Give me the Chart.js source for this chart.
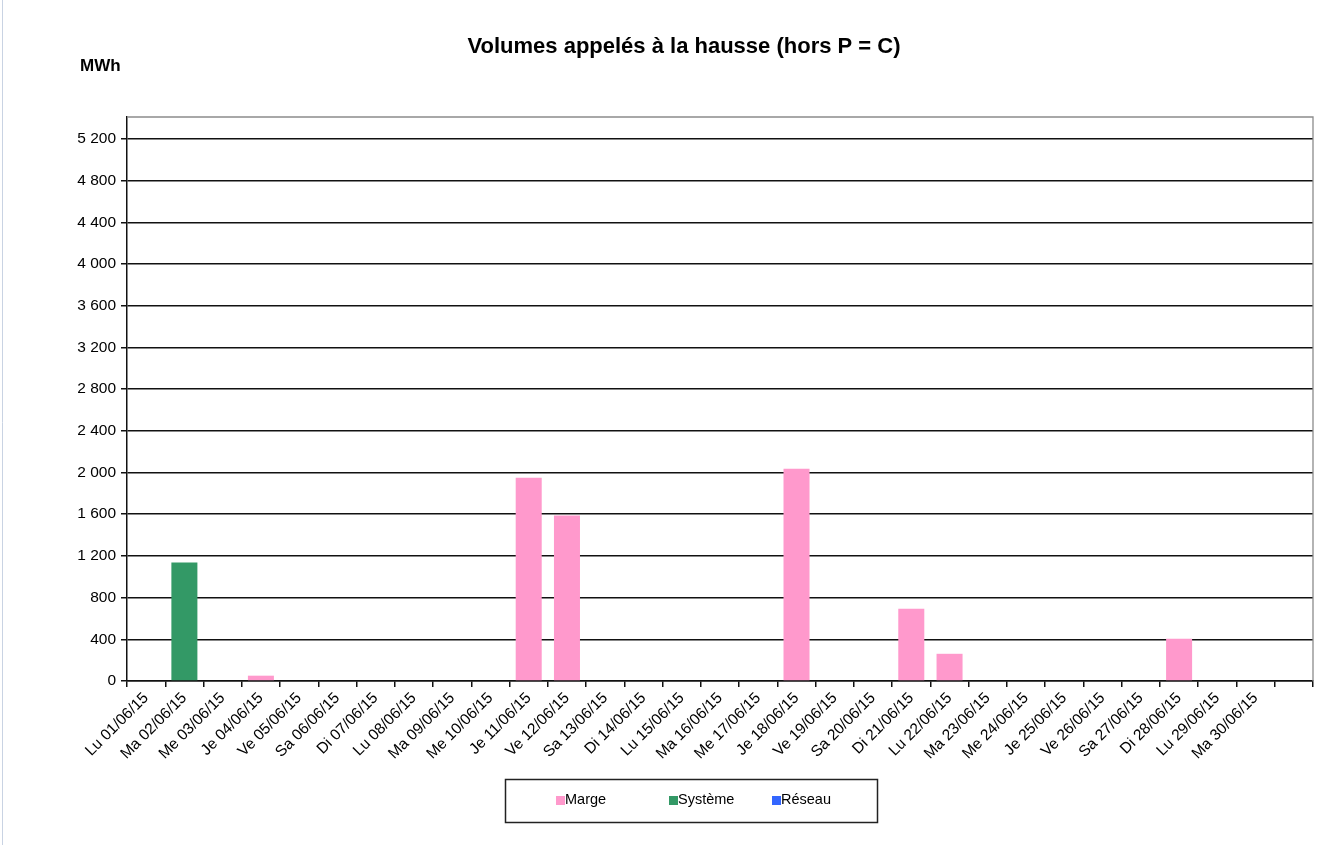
<!DOCTYPE html>
<html>
<head>
<meta charset="utf-8">
<script src="https://cdn.jsdelivr.net/npm/chart.js@4.4.1/dist/chart.umd.min.js"></script>
<style>
  html, body { margin: 0; padding: 0; background: #fff; }
</style>
</head>
<body>
<canvas id="myChart" width="1329" height="845"></canvas>
<script>
// jours du mois (la 31e catégorie reste vide, comme dans le classeur)
const jours = ['Lu 01/06/15', 'Ma 02/06/15', 'Me 03/06/15', 'Je 04/06/15', 'Ve 05/06/15',
    'Sa 06/06/15', 'Di 07/06/15', 'Lu 08/06/15', 'Ma 09/06/15', 'Me 10/06/15',
    'Je 11/06/15', 'Ve 12/06/15', 'Sa 13/06/15', 'Di 14/06/15', 'Lu 15/06/15',
    'Ma 16/06/15', 'Me 17/06/15', 'Je 18/06/15', 'Ve 19/06/15', 'Sa 20/06/15',
    'Di 21/06/15', 'Lu 22/06/15', 'Ma 23/06/15', 'Me 24/06/15', 'Je 25/06/15',
    'Ve 26/06/15', 'Sa 27/06/15', 'Di 28/06/15', 'Lu 29/06/15', 'Ma 30/06/15', ''];

// volumes en MWh
const marge   = [0, 0, 0, 51, 0, 0, 0, 0, 0, 0, 1949, 1588, 0, 0, 0, 0, 0, 2035, 0, 0, 694, 261, 0, 0, 0, 0, 0, 406, 0, 0, 0];
const systeme = [0, 1137, 0, 0, 0, 0, 0, 0, 0, 0, 0, 0, 0, 0, 0, 0, 0, 0, 0, 0, 0, 0, 0, 0, 0, 0, 0, 0, 0, 0, 0];
const reseau  = [0, 0, 0, 0, 0, 0, 0, 0, 0, 0, 0, 0, 0, 0, 0, 0, 0, 0, 0, 0, 0, 0, 0, 0, 0, 0, 0, 0, 0, 0, 0];

const graduations = [0, 400, 800, 1200, 1600, 2000, 2400, 2800, 3200, 3600, 4000, 4400, 4800, 5200];

const titre = 'Volumes appelés à la hausse (hors P = C)';
const unite = 'MWh';
const police = '"Liberation Sans", Arial, sans-serif';

// format "5 200"
function formatMilliers(v) {
    if (v < 1000) return String(v);
    return Math.floor(v / 1000) + ' ' + String(v % 1000).padStart(3, '0');
}

// titre, unité, cadre et légende dessinés à la main
const decor = {
    id: 'decor',
    afterDraw(chart) {
        const ctx = chart.ctx;
        const a = chart.chartArea;
        ctx.save();

        // filet à gauche de l'image
        ctx.strokeStyle = '#c9d3e3';
        ctx.lineWidth = 1;
        ctx.beginPath();
        ctx.moveTo(2.5, 0);
        ctx.lineTo(2.5, 845);
        ctx.stroke();

        // bord haut / droit de la zone de tracé
        ctx.strokeStyle = '#8c8c8c';
        ctx.lineWidth = 1.3;
        ctx.beginPath();
        ctx.moveTo(a.left, a.top);
        ctx.lineTo(a.right, a.top);
        ctx.lineTo(a.right, a.bottom);
        ctx.stroke();

        ctx.fillStyle = '#000';
        ctx.textBaseline = 'middle';
        ctx.textAlign = 'center';
        ctx.font = 'bold 22px ' + police;
        ctx.fillText(titre, 684, 47);

        ctx.textAlign = 'left';
        ctx.font = 'bold 17px ' + police;
        ctx.fillText(unite, 80, 66);

        // légende
        ctx.strokeStyle = '#222';
        ctx.lineWidth = 1.5;
        ctx.strokeRect(505.5, 779.5, 372, 43);
        ctx.font = '14.5px ' + police;
        const xs = [556, 669, 772];
        chart.data.datasets.forEach((ds, i) => {
            ctx.fillStyle = ds.backgroundColor;
            ctx.fillRect(xs[i], 796, 9, 9);
            ctx.fillStyle = '#000';
            ctx.fillText(ds.label, xs[i] + 9, 800);
        });
        ctx.restore();
    }
};

const ctx = document.getElementById('myChart').getContext('2d');
const myChart = new Chart(ctx, {
    type: 'bar',
    data: {
        labels: jours,
        datasets: [
            { label: 'Marge', data: marge, backgroundColor: '#ff99cc' },
            { label: 'Système', data: systeme, backgroundColor: '#339966' },
            { label: 'Réseau', data: reseau, backgroundColor: '#3366ff' }
        ]
    },
    options: {
        responsive: false,
        animation: false,
        layout: { padding: { left: 0, right: 16, top: 117, bottom: 0 } },
        datasets: { bar: { barPercentage: 0.68, categoryPercentage: 1, borderWidth: 0 } },
        plugins: {
            legend: { display: false },
            title: { display: false },
            tooltip: { enabled: false }
        },
        scales: {
            x: {
                stacked: true,
                afterFit: s => { s.height = 164; },
                border: { color: '#111', width: 1.5 },
                grid: { drawOnChartArea: false, drawTicks: true, tickLength: 6, color: '#111', lineWidth: 1.5, offset: true },
                ticks: {
                    autoSkip: false,
                    minRotation: 45,
                    maxRotation: 45,
                    padding: 2,
                    color: '#000',
                    font: { family: police, size: 15.5 }
                }
            },
            y: {
                stacked: true,
                min: 0,
                max: 5410,
                afterFit: s => { s.width = 127; },
                afterBuildTicks: s => { s.ticks = graduations.map(v => ({ value: v })); },
                border: { color: '#111', width: 1.5 },
                grid: { color: '#111', lineWidth: 1.5, tickLength: 6 },
                ticks: {
                    padding: 5,
                    color: '#000',
                    font: { family: police, size: 15.5 },
                    callback: v => formatMilliers(v)
                }
            }
        }
    },
    plugins: [decor]
});
</script>
</body>
</html>
